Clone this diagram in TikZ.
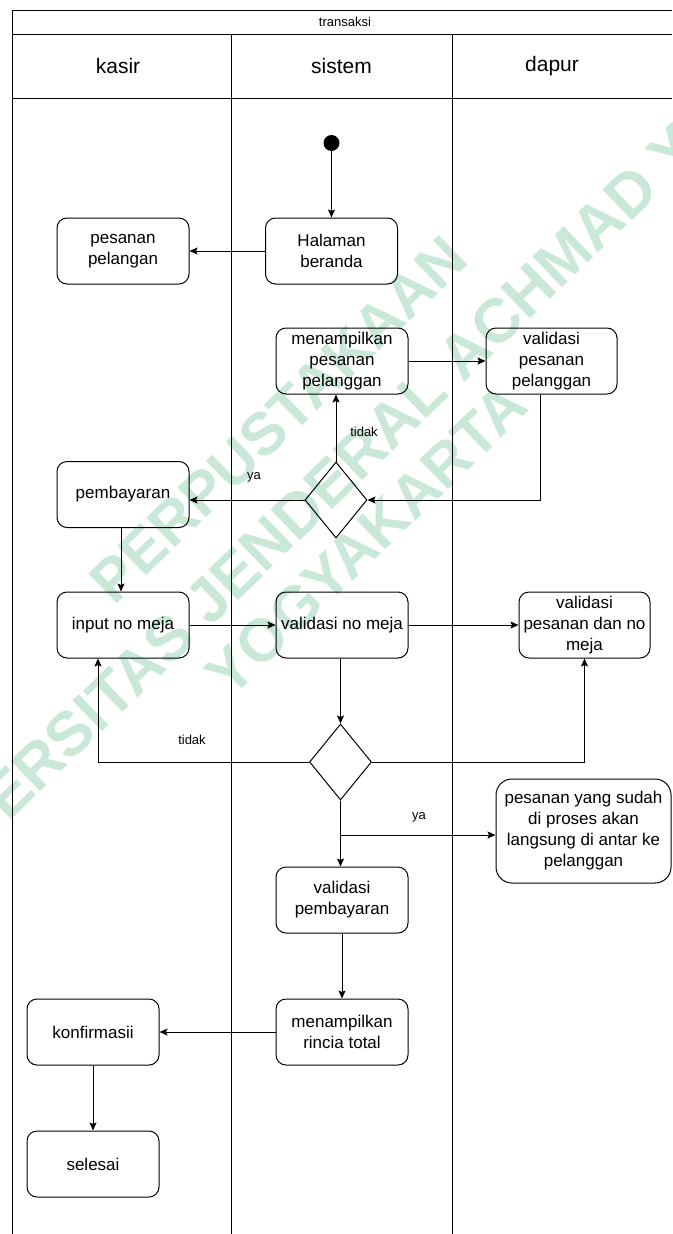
\documentclass[tikz,border=0pt]{standalone}
\usepackage{fontspec}
\setmainfont{Liberation Sans}
\usetikzlibrary{arrows.meta,shapes.geometric,calc}
\definecolor{wmgreen}{RGB}{202,232,216}
\tikzset{
  lane/.style={draw=black, line width=1pt},
  box/.style={draw=black, line width=1pt, rounded corners=10pt,
    minimum width=132pt, minimum height=66pt, inner sep=0pt,
    align=center, font=\fontsize{17}{21}\selectfont},
  decision/.style={draw=black, line width=1pt, diamond, inner sep=0pt,
    minimum width=62pt, minimum height=76pt},
  startdot/.style={circle, fill=black, minimum size=16pt, inner sep=0pt},
  arr/.style={draw=black, line width=1pt,
    -{Stealth[length=8pt,width=7pt,inset=1.5pt]}},
  lbl/.style={font=\fontsize{13}{15}\selectfont, inner sep=0pt},
  headtxt/.style={font=\fontsize{21}{25}\selectfont, inner sep=0pt},
  wmark/.style={text=wmgreen, font=\fontsize{60}{60}\selectfont\bfseries,
    rotate=44, inner sep=0pt}
}
\begin{document}
\begin{tikzpicture}[x=1pt, y=-1pt]
\useasboundingbox (0,0) rectangle (672,1234);
\fill[white] (0,0) rectangle (672,1234);

% library watermark, behind everything
\node[wmark] (wm1) at (278.5,419.5) {PERPUSTAKAAN};
\node[wmark, font=\fontsize{62}{62}\selectfont\bfseries] (wm2) at (324,488) {UNIVERSITAS JENDERAL ACHMAD YANI};
\node[wmark] (wm3) at (366.5,539.5) {YOGYAKARTA};

% swimlane frame
\draw[lane] (12,1234) -- (12,10) -- (672,10);
\draw[lane] (12,34) -- (672,34);
\draw[lane] (12,98) -- (672,98);
\draw[lane] (231,34) -- (231,1234);
\draw[lane] (452,34) -- (452,1234);

\node[lbl] (title) at (345,22) {transaksi};
\node[headtxt] (hkasir) at (118,66) {kasir};
\node[headtxt] (hsistem) at (341.5,66) {sistem};
\node[headtxt] (hdapur) at (552,66) {dapur};

% activities
\node[startdot] (start) at (331.5,143) {};
\node[box] (beranda) at (331.5,251) {Halaman\\beranda};
\node[box] (pesanan) at (123,251) {pesanan\\pelangan};
\node[box] (tampil) at (342,361) {menampilkan\\pesanan\\pelanggan};
\node[box, minimum width=131pt] (valpesan) at (551.5,361) {validasi\\pesanan\\pelanggan};
\node[decision] (dec1) at (336,500) {};
\node[box] (bayar) at (123,494.5) {pembayaran};
\node[box] (inputmeja) at (123,625) {input no meja};
\node[box] (valmeja) at (342,625) {validasi no meja};
\node[box, minimum width=131pt] (valpesmeja) at (584.5,625) {validasi\\pesanan dan no\\meja};
\node[decision] (dec2) at (340.5,762) {};
\node[box, minimum width=175pt, minimum height=104pt, rounded corners=16pt] (antar) at (583.5,831)
  {pesanan yang sudah\\di proses akan\\langsung di antar ke\\pelanggan};
\node[box] (valbayar) at (342,900) {validasi\\pembayaran};
\node[box] (rincian) at (342,1032) {menampilkan\\rincia total};
\node[box] (konfirm) at (93,1032) {konfirmasii};
\node[box] (selesai) at (93,1164) {selesai};

% flow
\draw[arr] (start) -- (beranda);
\draw[arr] (beranda.west) -- (pesanan.east |- beranda.west);
\draw[arr] (tampil.east) -- (valpesan.west);
\draw[arr] ([xshift=-11.5pt]valpesan.south) |- (dec1.east);
\draw[arr] (dec1.north) -- (dec1.north |- tampil.south);
\draw[arr] (dec1.west) -- (dec1.west -| bayar.east);
\draw[arr] ([xshift=-2pt]bayar.south) -- ([xshift=-2pt]inputmeja.north);
\draw[arr] (inputmeja.east) -- (valmeja.west);
\draw[arr] (valmeja.east) -- (valpesmeja.west);
\draw[arr] (dec2.north |- valmeja.south) -- (dec2.north);
\draw[arr] (dec2.west) -| ([xshift=-25pt]inputmeja.south);
\draw[arr] (dec2.east) -| (valpesmeja.south);
\draw[arr] (dec2.south) -- (dec2.south |- valbayar.north);
\coordinate (fork) at (340.5,835);
\draw[arr] (fork) -- (fork -| antar.west);
\draw[arr] (valbayar.south) -- (rincian.north);
\draw[arr] (rincian.west) -- (konfirm.east);
\draw[arr] (konfirm.south) -- (selesai.north);

% branch labels
\node[lbl] (t1) at (364,432) {tidak};
\node[lbl] (y1) at (254,477) {ya};
\node[lbl] (t2) at (192,740) {tidak};
\node[lbl] (y2) at (419,817) {ya};
\end{tikzpicture}
\end{document}
